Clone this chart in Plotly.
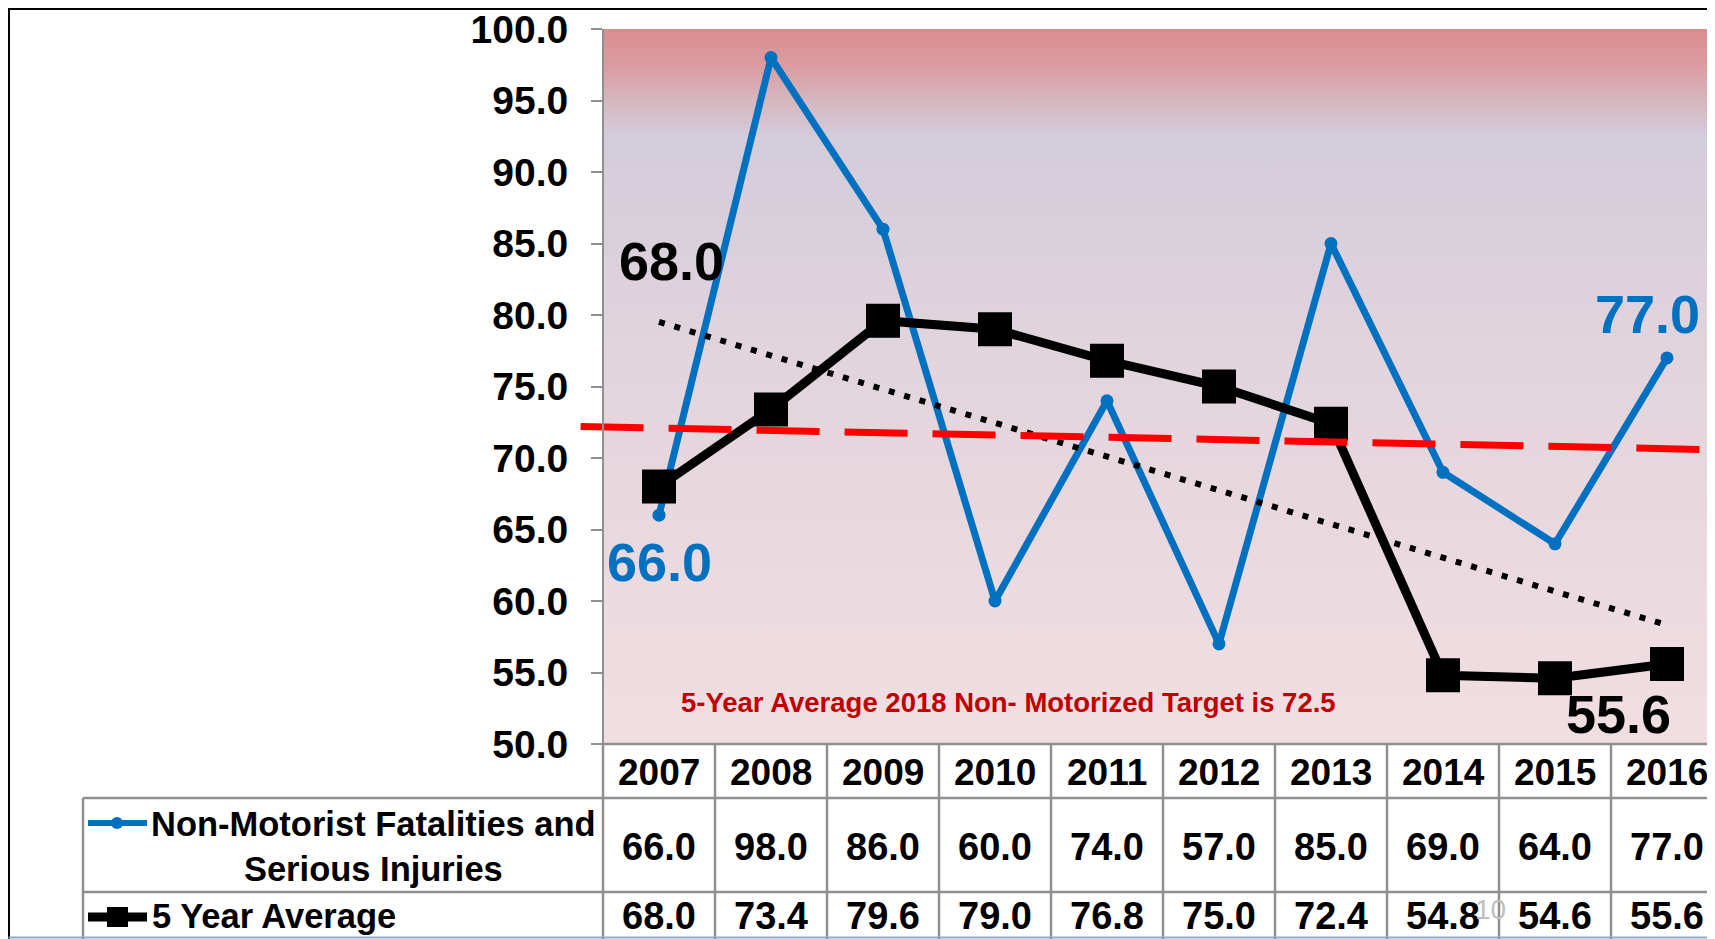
'''
    Non-motorist fatalities and serious injuries chart, with the
    5 year average, its trendline and the data table under the plot.
'''

import numpy as np
import plotly.graph_objects as go

YEARS = ['2007', '2008', '2009', '2010', '2011', '2012', '2013', '2014', '2015', '2016']
FATALITIES = [66.0, 98.0, 86.0, 60.0, 74.0, 57.0, 85.0, 69.0, 64.0, 77.0]
FIVE_YEAR_AVG = [68.0, 73.4, 79.6, 79.0, 76.8, 75.0, 72.4, 54.8, 54.6, 55.6]
Y_TICKS = [50, 55, 60, 65, 70, 75, 80, 85, 90, 95, 100]

# target line was drawn by hand on the slide, a bit sloped
TARGET_LINE_X = [-0.7, 9.3]
TARGET_LINE_Y = [72.2, 70.6]

ROW_LABELS = ['Non-Motorist Fatalities and<br>Serious Injuries', '5 Year Average']
TARGET_TEXT = '5-Year Average 2018 Non- Motorized Target is 72.5'

BLUE = '#0070C0'
RED = '#FF0000'
DARK_RED = '#C00000'
GRID = '#8F8F8F'
FONT = 'Liberation Sans, Arial, sans-serif'

# page geometry, in pixels of the screen (the page body adds an 8px offset)
W, H = 1715, 939
PAGE_OFFSET = 8
AXIS_X = 603
COL_W = 112
PLOT_LEFT = 580
PLOT_TOP = 29
PLOT_BOTTOM = 744
ROW1_BOTTOM = 798
ROW2_BOTTOM = 892
LABEL_LEFT = 83


def px(x):
    return (x - PAGE_OFFSET) / W


def py(y):
    return 1 - (y - PAGE_OFFSET) / H


def note(fig, x, y, text, font, xref='x', yref='paper', **kw):
    '''
        Adds a plain text annotation, centered on its position.
    '''
    opts = dict(xanchor='center', yanchor='middle')
    opts.update(kw)
    fig.add_annotation(x=x, y=y, xref=xref, yref=yref, text=text,
                       showarrow=False, font=font, **opts)


def init_figure():
    '''
        Creates the figure with the axes placed like on the slide.
    '''
    fig = go.Figure()
    x_min = -0.5 - (AXIS_X - PLOT_LEFT) / COL_W
    x_max = -0.5 + (W + PAGE_OFFSET - AXIS_X) / COL_W
    fig.update_layout(
        width=W, height=H, autosize=False,
        margin=dict(l=0, r=0, t=0, b=0, autoexpand=False),
        paper_bgcolor='white', plot_bgcolor='white',
        showlegend=False,
        font=dict(family=FONT, color='black'),
        xaxis=dict(domain=[px(PLOT_LEFT), 1], range=[x_min, x_max],
                   visible=False, showgrid=False, zeroline=False,
                   automargin=False),
        yaxis=dict(domain=[py(PLOT_BOTTOM), py(PLOT_TOP)], range=[50, 100],
                   anchor='free', position=px(AXIS_X), automargin=False,
                   tickvals=Y_TICKS, tickformat='.1f',
                   showline=True, linecolor=GRID, linewidth=2,
                   ticks='outside', ticklen=11, tickwidth=2, tickcolor=GRID,
                   ticklabelstandoff=15, ticklabeloverflow='allow',
                   tickfont=dict(size=39, weight='bold', color='black'),
                   showgrid=False, zeroline=False),
    )
    return fig


def draw_chart(fig):
    '''
        Draws the background gradient, the two series, the trendline
        and the target line.
    '''
    idx = list(range(len(YEARS)))

    fig.add_trace(go.Scatter(
        x=[-0.5, 9.5, 9.5, -0.5], y=[50, 50, 100, 100],
        mode='lines', fill='toself', line=dict(width=0),
        fillgradient=dict(type='vertical', start=50, stop=100, colorscale=[
            [0.0, '#F1DEE1'], [0.5, '#E3D5DD'], [0.85, '#D3CCDA'],
            [0.9, '#D6B6BF'], [0.95, '#DA9C9F'], [1.0, '#DB8D8E']]),
        hoverinfo='skip'))

    fig.add_trace(go.Scatter(
        x=idx, y=FATALITIES, mode='lines+markers',
        line=dict(color=BLUE, width=7),
        marker=dict(color=BLUE, size=13, symbol='circle'),
        name='Non-Motorist Fatalities and Serious Injuries'))

    fig.add_trace(go.Scatter(
        x=idx, y=FIVE_YEAR_AVG, mode='lines+markers',
        line=dict(color='black', width=9),
        marker=dict(color='black', size=34, symbol='square'),
        name='5 Year Average'))

    # linear trendline of the 5 year average (like the excel one)
    slope, inter = np.polyfit(idx, FIVE_YEAR_AVG, 1)
    fig.add_trace(go.Scatter(
        x=[idx[0], idx[-1]], y=[inter + slope * idx[0], inter + slope * idx[-1]],
        mode='lines', line=dict(color='black', width=6, dash='6px,10px'),
        hoverinfo='skip'))

    fig.add_trace(go.Scatter(
        x=TARGET_LINE_X, y=TARGET_LINE_Y, mode='lines',
        line=dict(color=RED, width=7, dash='63px,25px'),
        hoverinfo='skip'))

    label_font = dict(size=54, weight='bold', family=FONT)
    note(fig, 0.11, 83.8, f'{FIVE_YEAR_AVG[0]:.1f}', dict(label_font, color='black'), yref='y')
    note(fig, 0, 62.7, f'{FATALITIES[0]:.1f}', dict(label_font, color=BLUE), yref='y')
    note(fig, 8.83, 80.1, f'{FATALITIES[-1]:.1f}', dict(label_font, color=BLUE), yref='y')
    note(fig, 8.57, 52.1, f'{FIVE_YEAR_AVG[-1]:.1f}', dict(label_font, color='black'), yref='y')

    note(fig, 3.12, 52.9, TARGET_TEXT,
         dict(size=27.5, weight='bold', color=DARK_RED, family=FONT), yref='y')
    return fig


def draw_table(fig):
    '''
        Draws the data table below the x axis, aligned on the year columns.
    '''
    line = dict(color=GRID, width=2.5)
    fig.add_shape(type='line', xref='x', yref='paper', x0=-0.5, x1=9.5,
                  y0=py(PLOT_BOTTOM), y1=py(PLOT_BOTTOM), line=line)
    for y in (ROW1_BOTTOM, ROW2_BOTTOM):
        fig.add_shape(type='line', xref='paper', yref='paper',
                      x0=px(LABEL_LEFT), x1=1, y0=py(y), y1=py(y), line=line)
    fig.add_shape(type='line', xref='paper', yref='paper',
                  x0=px(LABEL_LEFT), x1=px(LABEL_LEFT), y0=py(ROW1_BOTTOM), y1=0, line=line)
    for k in range(len(YEARS) + 1):
        fig.add_shape(type='line', xref='x', yref='paper', x0=k - 0.5, x1=k - 0.5,
                      y0=py(PLOT_BOTTOM), y1=0, line=line)

    cell_font = dict(size=38, weight='bold', color='black', family=FONT)
    for i, year in enumerate(YEARS):
        note(fig, i, py(772), year, dict(cell_font, size=37))
        note(fig, i, py(847), f'{FATALITIES[i]:.1f}', cell_font)
        note(fig, i, py(916), f'{FIVE_YEAR_AVG[i]:.1f}', cell_font)

    note(fig, px(373), py(846), ROW_LABELS[0], dict(cell_font, size=34.5),
         xref='paper', align='center')
    note(fig, px(150), py(916), ROW_LABELS[1], dict(cell_font, size=34.5),
         xref='paper', xanchor='left')

    # legend keys inside the row labels
    fig.add_shape(type='line', xref='paper', yref='paper', x0=px(88), x1=px(147),
                  y0=py(823), y1=py(823), line=dict(color=BLUE, width=6))
    fig.add_shape(type='circle', xref='paper', yref='paper', x0=px(111), x1=px(123),
                  y0=py(829), y1=py(817), fillcolor=BLUE, line=dict(width=0))
    fig.add_shape(type='line', xref='paper', yref='paper', x0=px(88), x1=px(147),
                  y0=py(917), y1=py(917), line=dict(color='black', width=9))
    fig.add_shape(type='rect', xref='paper', yref='paper', x0=px(107), x1=px(128),
                  y0=py(927), y1=py(907), fillcolor='black', line=dict(width=0))

    # slide frame, bottom rule and page number
    fig.add_shape(type='line', xref='paper', yref='paper', x0=0, x1=1,
                  y0=py(8.5), y1=py(8.5), line=dict(color='black', width=3))
    fig.add_shape(type='line', xref='paper', yref='paper', x0=px(8.5), x1=px(8.5),
                  y0=1, y1=0, line=dict(color='black', width=3))
    fig.add_shape(type='line', xref='paper', yref='paper', x0=px(8.5), x1=1,
                  y0=py(937.5), y1=py(937.5), line=dict(color='#8EA9C8', width=2))
    note(fig, 7.42, py(909), '10',
         dict(size=28, color='#BFBFBF', family='Liberation Sans Narrow, ' + FONT))
    return fig


fig = init_figure()
fig = draw_chart(fig)
fig = draw_table(fig)
fig.write_html('out.html')
